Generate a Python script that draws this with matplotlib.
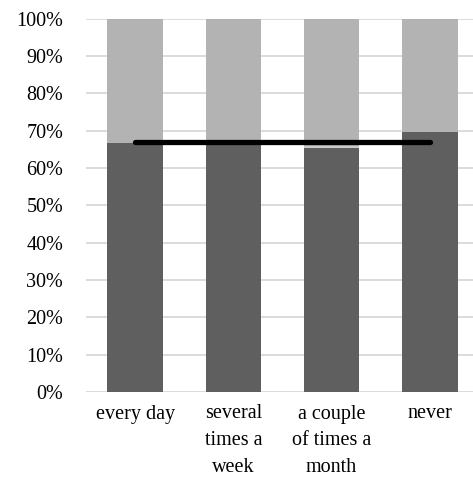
import numpy as np
import matplotlib.pyplot as plt

# data (percent)
categories = ['every day', 'several\ntimes a\nweek', 'a couple\nof times a\nmonth', 'never']
dark_share = [66.6, 67.4, 65.2, 69.7]
thin_share = [0.0, 0.0, 0.6, 0.0]
light_share = [100 - d - t for d, t in zip(dark_share, thin_share)]
average = [67.0, 67.0, 67.0, 67.0]
yticks = np.arange(0, 101, 10)

plt.rcParams['font.family'] = ['Liberation Serif', 'DejaVu Serif']

fig = plt.figure(figsize=(4.73, 4.82), dpi=100)
ax = fig.add_axes([86 / 473, 90 / 482, 393 / 473, 373.5 / 482])

x = np.arange(len(categories))
width = 0.566
ax.bar(x, dark_share, width, color='#5f5f5f', zorder=2)
ax.bar(x, thin_share, width, bottom=dark_share, color='#cbcbcb', zorder=2)
ax.bar(x, light_share, width, bottom=np.add(dark_share, thin_share), color='#b3b3b3', zorder=2)
ax.plot(x, average, color='black', linewidth=3.8, solid_capstyle='round', zorder=3)

ax.set_xlim(-0.5, len(categories) - 0.5)
ax.set_ylim(0, 100)
ax.set_yticks(yticks)
ax.set_yticklabels([f'{v}%' for v in yticks])
ax.set_xticks(x)
ax.set_xticklabels(categories, linespacing=1.55)
ax.grid(axis='y', color='#d9d9d9', linewidth=1.3, zorder=0)
ax.set_axisbelow(True)
for side in ['top', 'right', 'left', 'bottom']:
    ax.spines[side].set_visible(False)
ax.tick_params(axis='y', length=0, pad=16.5, labelsize=14.5)
ax.tick_params(axis='x', length=0, pad=9, labelsize=14.5)

fig.savefig('out.png', dpi=100)
